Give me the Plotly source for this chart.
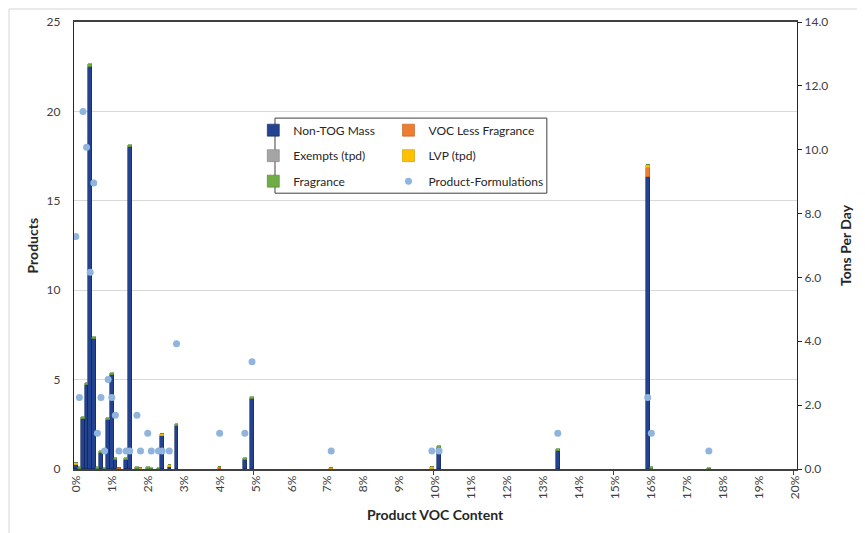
import plotly.graph_objects as go

# ---------------- data ----------------
voc_content = [0.0, 0.1, 0.2, 0.3, 0.4, 0.5, 0.6, 0.7, 0.8, 0.9, 1.0, 1.1, 1.2, 1.4, 1.5,
               1.7, 1.8, 2.0, 2.1, 2.3, 2.4, 2.6, 2.8, 4.0, 4.7, 4.9, 7.1, 9.9, 10.1,
               13.4, 15.9, 16.0, 17.6]

non_tog_mass = [0.13, 0, 1.57, 2.63, 12.60, 4.07, 0, 0.50, 0, 1.54, 2.93, 0.28, 0, 0.28, 10.08,
                0, 0, 0, 0, 0, 1.03, 0.05, 1.35, 0, 0.28, 2.20, 0, 0, 0.65,
                0.57, 9.15, 0, 0]
voc_less_fragrance = [0, 0, 0, 0, 0, 0, 0, 0, 0, 0, 0, 0, 0.04, 0, 0,
                      0, 0, 0, 0, 0, 0, 0, 0, 0.06, 0, 0, 0, 0, 0,
                      0, 0.28, 0, 0]
exempts_tpd = [0, 0, 0, 0, 0, 0, 0, 0, 0, 0, 0, 0, 0, 0, 0,
               0, 0, 0, 0, 0, 0, 0, 0, 0, 0, 0, 0, 0, 0,
               0, 0, 0, 0]
lvp_tpd = [0.06, 0, 0, 0, 0, 0, 0, 0, 0, 0, 0, 0, 0, 0, 0,
           0, 0.03, 0, 0, 0, 0.06, 0.06, 0, 0, 0, 0, 0.03, 0.07, 0,
           0, 0.10, 0, 0]
fragrance = [0, 0.05, 0.06, 0.06, 0.07, 0.06, 0.05, 0.06, 0.04, 0.06, 0.07, 0.06, 0, 0.06, 0.07,
             0.05, 0, 0.05, 0.04, 0.04, 0, 0, 0.07, 0, 0.06, 0.06, 0, 0, 0.07,
             0.06, 0, 0.05, 0.04]
product_formulations = [13, 4, 20, 18, 11, 16, 2, 4, 1, 5, 4, 3, 1, 1, 1,
                        3, 1, 2, 1, 1, 1, 1, 7, 2, 2, 6, 1, 1, 1,
                        2, 4, 2, 1]

x_tick_values = list(range(0, 21))
x_tick_labels = [f"{v}%" for v in x_tick_values]
x_tick_marks = [4.95, 9.95, 14.95, 19.95]

# ---------------- figure ----------------
FONT = "Lato, Carlito, Calibri, sans-serif"
TXT = "#404040"
TITLE_FONT = dict(family=FONT, size=14, color="#262626")

fig = go.Figure()

bar_series = [
    ("Non-TOG Mass", non_tog_mass, "#23428F", "#10255A", "legend"),
    ("VOC Less Fragrance", voc_less_fragrance, "#ED7D31", "#B85A1C", "legend2"),
    ("Exempts (tpd)", exempts_tpd, "#A5A5A5", "#7F7F7F", "legend"),
    ("LVP (tpd)", lvp_tpd, "#FFC000", "#C99700", "legend2"),
    ("Fragrance", fragrance, "#70AD47", "#4E7F30", "legend"),
]
for name, vals, fill, edge, lg in bar_series:
    fig.add_trace(go.Bar(
        x=voc_content, y=vals, name=name, width=0.1,
        marker=dict(color=fill, line=dict(color=edge, width=0.6)),
        yaxis="y", legend=lg, legendgroup=name,
    ))

fig.add_trace(go.Scatter(
    x=voc_content, y=product_formulations, name="Product-Formulations",
    mode="markers", marker=dict(color="#8FB4DE", size=7),
    yaxis="y2", legend="legend2", legendgroup="pf",
))

leg_common = dict(
    bgcolor="rgba(0,0,0,0)", borderwidth=0, font=dict(family=FONT, size=12, color="#262626"),
    xanchor="left", yanchor="top", tracegroupgap=6.5, itemwidth=30, traceorder="grouped",
)

# The page body adds an 8px offset, so the figure is 8px smaller and margins shifted.
fig.update_layout(
    width=857, height=525,
    margin=dict(l=66, r=68, t=14, b=64, autoexpand=False),
    paper_bgcolor="white", plot_bgcolor="white",
    barmode="stack", bargap=0,
    font=dict(family=FONT, size=12, color=TXT),
    legend=dict(x=0.248, y=0.7905, **leg_common),
    legend2=dict(x=0.435, y=0.7905, **leg_common),
    xaxis=dict(
        range=[-0.05, 20.05], tickmode="array", tickvals=x_tick_values, ticktext=x_tick_labels,
        tickangle=-90, showgrid=False, zeroline=False, showline=True, mirror=True,
        linecolor="#404040", linewidth=1.6, ticks="", automargin=False,
        tickfont=dict(family=FONT, size=12, color=TXT),
        minor=dict(tickmode="array", tickvals=x_tick_marks, ticks="outside", ticklen=4,
                   tickcolor="#404040", tickwidth=1, showgrid=False),
    ),
    yaxis=dict(
        side="right", range=[0, 14], dtick=2, tickformat=".1f", showgrid=False, zeroline=False,
        showline=True, linecolor="#262626", linewidth=1.2, ticks="outside", ticklen=4,
        tickcolor="#262626", tickfont=dict(family=FONT, size=12, color=TXT), automargin=False,
    ),
    yaxis2=dict(
        overlaying="y", side="left", range=[0, 25], dtick=5, showgrid=True, gridcolor="#D9D9D9",
        gridwidth=1, zeroline=False, showline=True, linecolor="#262626", linewidth=1.2, ticks="",
        ticklabelstandoff=10, tickfont=dict(family=FONT, size=12, color=TXT), automargin=False,
    ),
    shapes=[
        dict(type="rect", xref="paper", yref="paper", x0=0.278, x1=0.654, y0=0.617, y1=0.785,
             line=dict(color="#404040", width=1), fillcolor="white", layer="above"),
        # light chart-area frame
        dict(type="line", xref="paper", yref="paper", x0=-0.0899, x1=1.2, y0=1.0291, y1=1.0291,
             line=dict(color="#E3E3E3", width=1.5)),
        dict(type="line", xref="paper", yref="paper", x0=-0.0899, x1=-0.0899, y0=-0.2, y1=1.0291,
             line=dict(color="#E3E3E3", width=1.5)),
    ],
    annotations=[
        dict(text="<b>Products</b>", xref="paper", yref="paper", x=-0.0575, y=0.501,
             textangle=-90, showarrow=False, font=TITLE_FONT, xanchor="center", yanchor="middle"),
        dict(text="<b>Tons Per Day</b>", xref="paper", yref="paper", x=1.0664, y=0.501,
             textangle=-90, showarrow=False, font=TITLE_FONT, xanchor="center", yanchor="middle"),
        dict(text="<b>Product VOC Content</b>", xref="paper", yref="paper", x=0.5, y=-0.1007,
             showarrow=False, font=TITLE_FONT, xanchor="center", yanchor="middle"),
    ],
)

fig.write_html("out.html")
